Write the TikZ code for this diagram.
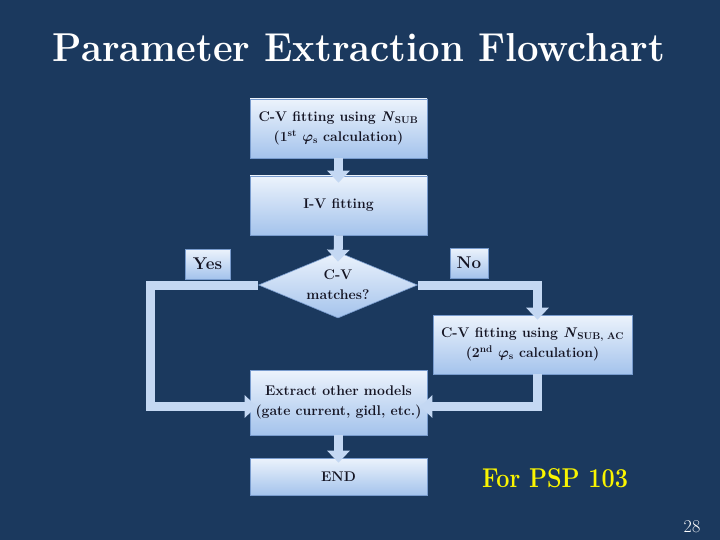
\documentclass[tikz,border=0pt]{standalone}
\usetikzlibrary{arrows.meta,shapes.geometric}
\definecolor{bg}{RGB}{27,57,94}
\definecolor{boxtop}{RGB}{236,243,252}
\definecolor{boxbot}{RGB}{164,195,236}
\definecolor{boxedge}{RGB}{120,155,205}
\definecolor{arrowfill}{RGB}{196,216,243}
\definecolor{txt}{RGB}{20,20,35}
\definecolor{yel}{RGB}{250,245,0}
\newcommand{\phis}{{\boldmath$\varphi$}\textsubscript{s}}
\tikzset{
  fbox/.style={rectangle, draw=boxedge, line width=0.6pt, top color=boxtop, bottom color=boxbot,
    align=center, inner sep=0pt, text=txt, font=\bfseries\fontsize{14}{20}\selectfont},
  lbox/.style={fbox, font=\bfseries\fontsize{17}{20}\selectfont},
  blk/.style={draw=arrowfill, line width=9pt, line join=miter,
    -{Triangle[width=22pt,length=12pt]}},
}
\begin{document}
\begin{tikzpicture}[x=1pt,y=-1pt]
\fill[bg] (0,0) rectangle (720,540);
\useasboundingbox (0,0) rectangle (720,540);

\node[anchor=base, inner sep=0pt, text=white, font=\bfseries\fontsize{40}{40}\selectfont] (title) at (359,62)
  {\resizebox{612pt}{28pt}{Parameter Extraction Flowchart}};

\node[fbox, minimum width=177pt, minimum height=59pt] (b1) at (338.5,128.5)
  {C-V fitting using \textit{N}\textsubscript{SUB}\\(1\textsuperscript{st} \phis{} calculation)};
\node[fbox, minimum width=177pt, minimum height=59pt] (b2) at (338.5,205.5) {I-V fitting};
\node[fbox, minimum width=199pt, minimum height=59pt] (b3) at (532.5,344.5)
  {C-V fitting using \textit{N}\textsubscript{SUB, AC}\\(2\textsuperscript{nd} \phis{} calculation)};
\node[fbox, minimum width=177pt, minimum height=65pt] (b4) at (338.5,402.5)
  {Extract other models\\(gate current, gidl, etc.)};
\node[fbox, minimum width=177pt, minimum height=37pt] (b5) at (338.5,476.5) {END};

\node[diamond, aspect=2.4, draw=boxedge, line width=0.6pt, top color=boxtop, bottom color=boxbot,
  inner sep=0pt, minimum width=159pt, minimum height=66pt, align=center, text=txt,
  font=\bfseries\fontsize{14}{20}\selectfont] (d) at (338,285) {C-V\\matches?};

\coordinate (yl) at (150,285);
\draw[blk] (b1.south) -- ([yshift=-7pt]b2.north);
\draw[blk] (b2.south) -- ([yshift=-10pt]d.north);
\draw[blk] (d.west) -- (yl) |- ([xshift=7pt,yshift=-4pt]b4.west);
\draw[blk] (d.east) -| ([xshift=5pt,yshift=-5pt]b3.north);
\draw[blk] ([xshift=5pt]b3.south) |- ([xshift=-7pt,yshift=-4pt]b4.east);
\draw[blk] (b4.south) -- ([yshift=-5pt]b5.north);

\node[lbox, minimum width=45pt, minimum height=30pt] (yes) at (207.5,264) {Yes};
\node[lbox, minimum width=38pt, minimum height=30pt] (no) at (469,263) {No};

\node[anchor=base, inner sep=0pt, text=yel, font=\bfseries\fontsize{26}{26}\selectfont] (psp) at (555,487)
  {\resizebox{146pt}{19pt}{For PSP 103}};
\node[anchor=base, text=white, font=\fontsize{18}{18}\selectfont] (pg) at (692,532) {28};
\end{tikzpicture}
\end{document}
